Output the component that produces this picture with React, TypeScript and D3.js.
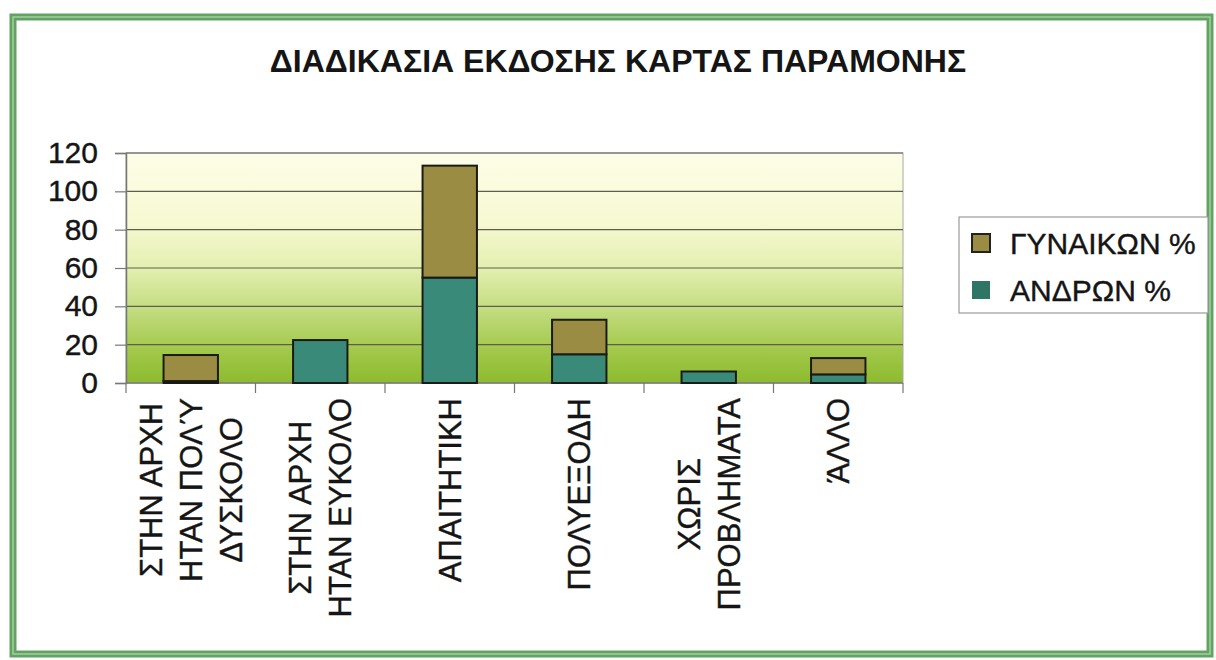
// ResidencePermitChart.tsx
import React, { useEffect, useRef } from 'react';
import * as d3 from 'd3';

const categories = [
  ['ΣΤΗΝ ΑΡΧΗ', 'ΗΤΑΝ ΠΟΛΎ', 'ΔΥΣΚΟΛΟ'],
  ['ΣΤΗΝ ΑΡΧΗ', 'ΗΤΑΝ ΕΥΚΟΛΟ'],
  ['ΑΠΑΙΤΗΤΙΚΗ'],
  ['ΠΟΛΥΕΞΟΔΗ'],
  ['ΧΩΡΙΣ', 'ΠΡΟΒΛΗΜΑΤΑ'],
  ['ΆΛΛΟ'],
];
const menPercent = [1, 22.4, 55, 15, 6, 4.5];
const womenPercent = [13.6, 0, 58.4, 18, 0, 8.5];
const yTicks = [0, 20, 40, 60, 80, 100, 120];
const seriesNames = ['ΓΥΝΑΙΚΩΝ %', 'ΑΝΔΡΩΝ %'];
const title = 'ΔΙΑΔΙΚΑΣΙΑ ΕΚΔΟΣΗΣ ΚΑΡΤΑΣ ΠΑΡΑΜΟΝΗΣ';

const FONT = "'Liberation Sans', Arial, sans-serif";
const WOMEN_COLOR = '#9a8c42';
const MEN_COLOR = '#3a8a79';
const INK = '#151515';

const App = () => {
  const svgRef = useRef<SVGSVGElement>(null);

  useEffect(() => {
    const svg = d3.select(svgRef.current);
    svg.selectAll('*').remove();

    const W = 1216;
    const H = 660;
    const plot = { left: 126, right: 903, top: 153, bottom: 383 };

    // frame
    svg.append('rect').attr('x', 0).attr('y', 0).attr('width', W).attr('height', H).attr('fill', '#fff');
    svg
      .append('rect')
      .attr('x', 13)
      .attr('y', 17)
      .attr('width', 1197)
      .attr('height', 637)
      .attr('fill', 'none')
      .attr('stroke', '#62a362')
      .attr('stroke-width', 7);
    svg
      .append('rect')
      .attr('x', 13)
      .attr('y', 17)
      .attr('width', 1197)
      .attr('height', 637)
      .attr('fill', 'none')
      .attr('stroke', '#a3cea3')
      .attr('stroke-width', 1.5);

    // title
    svg
      .append('text')
      .attr('x', 618)
      .attr('y', 72)
      .attr('text-anchor', 'middle')
      .attr('font-family', FONT)
      .attr('font-weight', 'bold')
      .attr('font-size', 32)
      .attr('fill', INK)
      .text(title);

    // gradient background for plot area
    const defs = svg.append('defs');
    const grad = defs
      .append('linearGradient')
      .attr('id', 'plotBg')
      .attr('x1', 0)
      .attr('y1', 0)
      .attr('x2', 0)
      .attr('y2', 1);
    [
      ['0%', '#fefde8'],
      ['30%', '#f7f9d2'],
      ['50%', '#e3efb0'],
      ['70%', '#bfda7a'],
      ['85%', '#a3c94c'],
      ['100%', '#8dbb2e'],
    ].forEach(([o, c]) => grad.append('stop').attr('offset', o).attr('stop-color', c));

    const keys = categories.map((c) => c.join(' '));
    const x = d3
      .scaleBand<string>()
      .domain(keys)
      .range([plot.left, plot.right])
      .paddingInner(0.58)
      .paddingOuter(0.29);
    const y = d3.scaleLinear().domain([0, 120]).range([plot.bottom, plot.top]);

    svg
      .append('rect')
      .attr('x', plot.left)
      .attr('y', plot.top)
      .attr('width', plot.right - plot.left)
      .attr('height', plot.bottom - plot.top)
      .attr('fill', 'url(#plotBg)')
      .attr('stroke', '#a8a8a8')
      .attr('stroke-width', 1);

    // gridlines
    svg
      .append('g')
      .selectAll('line')
      .data(yTicks.filter((t) => t > 0))
      .enter()
      .append('line')
      .attr('x1', plot.left)
      .attr('x2', plot.right)
      .attr('y1', (d) => y(d))
      .attr('y2', (d) => y(d))
      .attr('stroke', '#5e5e50')
      .attr('stroke-width', 1.2);

    // y axis
    const yAxis = svg
      .append('g')
      .attr('transform', `translate(${plot.left},0)`)
      .call(d3.axisLeft(y).tickValues(yTicks).tickSize(11).tickPadding(17));
    yAxis.select('.domain').attr('stroke', '#777').attr('stroke-width', 1.5);
    yAxis.selectAll('.tick line').attr('stroke', '#777').attr('stroke-width', 1.2);
    yAxis
      .selectAll('.tick text')
      .attr('font-family', FONT)
      .attr('font-size', 30)
      .attr('fill', INK)
      .attr('stroke', INK)
      .attr('stroke-width', 0.4);

    // x axis line + boundary ticks
    svg
      .append('line')
      .attr('x1', plot.left)
      .attr('x2', plot.right)
      .attr('y1', plot.bottom)
      .attr('y2', plot.bottom)
      .attr('stroke', '#777')
      .attr('stroke-width', 1.5);
    const step = x.step();
    const boundaries = d3.range(keys.length + 1).map((i) => plot.left + i * step);
    svg
      .append('g')
      .selectAll('line')
      .data(boundaries)
      .enter()
      .append('line')
      .attr('x1', (d) => d)
      .attr('x2', (d) => d)
      .attr('y1', plot.bottom)
      .attr('y2', plot.bottom + 10)
      .attr('stroke', '#777')
      .attr('stroke-width', 1.2);

    // stacked bars
    const rows = keys.map((k, i) => ({ key: k, men: menPercent[i], women: womenPercent[i] }));
    const stacked = d3.stack<any>().keys(['men', 'women'])(rows);
    const colors: Record<string, string> = { men: MEN_COLOR, women: WOMEN_COLOR };
    stacked.forEach((layer) => {
      svg
        .append('g')
        .selectAll('rect')
        .data(layer.filter((d) => d[1] - d[0] > 0))
        .enter()
        .append('rect')
        .attr('x', (d) => x(d.data.key) as number)
        .attr('y', (d) => y(d[1]))
        .attr('width', x.bandwidth())
        .attr('height', (d) => y(d[0]) - y(d[1]))
        .attr('fill', colors[layer.key])
        .attr('stroke', '#1b1b16')
        .attr('stroke-width', 2);
    });

    // category labels, rotated, lines centred on each other, top anchored below axis
    const labelTop = 398;
    const lineGap = 40;
    categories.forEach((lines, i) => {
      const cx = (x(keys[i]) as number) + x.bandwidth() / 2;
      const g = svg.append('g').attr('transform', `translate(${cx},${labelTop}) rotate(-90)`);
      const texts = lines.map((line, j) =>
        g
          .append('text')
          .attr('y', (j - (lines.length - 1) / 2) * lineGap)
          .attr('dy', '0.36em')
          .attr('text-anchor', 'middle')
          .attr('font-family', FONT)
          .attr('font-size', 31)
          .attr('fill', INK)
          .attr('stroke', INK)
          .attr('stroke-width', 0.4)
          .text(line)
      );
      const maxW = d3.max(texts, (t) => (t.node() as SVGTextElement).getComputedTextLength()) || 0;
      texts.forEach((t) => t.attr('x', -maxW / 2));
    });

    // legend
    const legend = svg.append('g');
    legend
      .append('rect')
      .attr('x', 959)
      .attr('y', 217)
      .attr('width', 249)
      .attr('height', 96)
      .attr('fill', '#fff')
      .attr('stroke', '#9a9a9a')
      .attr('stroke-width', 1.2);
    const legendColors = [WOMEN_COLOR, '#2f7566'];
    seriesNames.forEach((name, i) => {
      const cy = 243 + i * 47;
      legend
        .append('rect')
        .attr('x', 972)
        .attr('y', cy - 9)
        .attr('width', 18)
        .attr('height', 18)
        .attr('fill', legendColors[i])
        .attr('stroke', i === 0 ? '#222' : 'none')
        .attr('stroke-width', 2);
      legend
        .append('text')
        .attr('x', 1010)
        .attr('y', cy)
        .attr('dy', '0.36em')
        .attr('font-family', FONT)
        .attr('font-size', 30)
        .attr('fill', INK)
        .attr('stroke', INK)
        .attr('stroke-width', 0.4)
        .text(name);
    });
  }, []);

  return (
    <svg
      ref={svgRef}
      width={1216}
      height={660}
      style={{ position: 'absolute', top: 0, left: 0, display: 'block', background: 'white' }}
    />
  );
};

export default App;
